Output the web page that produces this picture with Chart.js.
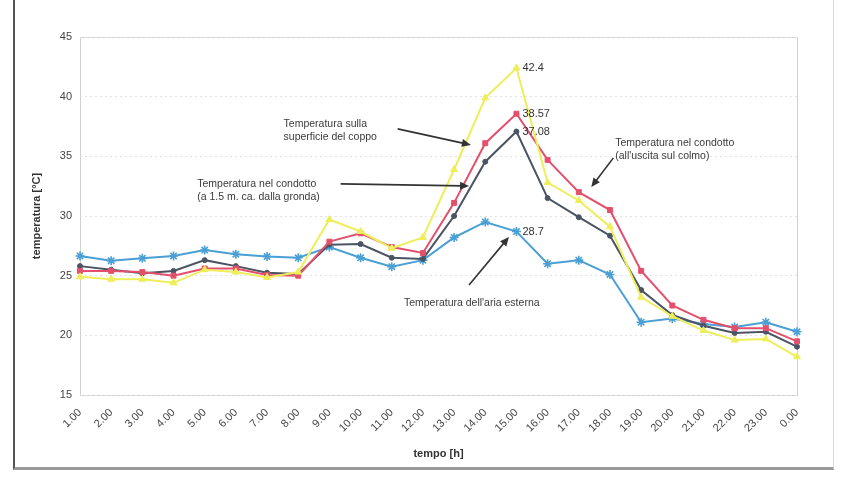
<!DOCTYPE html>
<html>
<head>
<meta charset="utf-8">
<script src="https://cdn.jsdelivr.net/npm/chart.js"></script>
<style>
	html, body { margin: 0; padding: 0; background: #fff; }
	#wrap { position: relative; width: 843px; height: 478px; }
	#frame { position: absolute; left: 13px; top: 0; width: 818px; height: 467px; border-left: 2px solid #555; border-bottom: 3px solid #999; border-right: 1px solid #ddd; }
	canvas { position: absolute; left: 0; top: 0; }
</style>
</head>
<body>
<div id="wrap">
	<div id="frame"></div>
	<canvas id="tempChart" width="843" height="478"></canvas>
</div>
<script>
var hours = ["1.00","2.00","3.00","4.00","5.00","6.00","7.00","8.00","9.00","10.00","11.00","12.00",
	"13.00","14.00","15.00","16.00","17.00","18.00","19.00","20.00","21.00","22.00","23.00","0.00"];

// superficie del coppo
var coppo = [24.9, 24.7, 24.7, 24.4, 25.5, 25.3, 24.85, 25.3, 29.7, 28.7, 27.3, 28.2,
	33.9, 39.9, 42.4, 32.8, 31.3, 29.1, 23.2, 21.6, 20.4, 19.6, 19.7, 18.2];
// condotto, uscita sul colmo
var colmo = [25.4, 25.4, 25.3, 25.0, 25.6, 25.6, 25.05, 25.0, 27.85, 28.55, 27.4, 26.9,
	31.1, 36.1, 38.57, 34.7, 32.0, 30.5, 25.4, 22.5, 21.3, 20.6, 20.6, 19.5];
// condotto, 1.5 m dalla gronda
var gronda = [25.8, 25.5, 25.2, 25.4, 26.3, 25.8, 25.25, 25.15, 27.6, 27.65, 26.5, 26.4,
	30.0, 34.55, 37.08, 31.5, 29.9, 28.35, 23.8, 21.7, 20.8, 20.2, 20.3, 19.05];
// aria esterna
var esterna = [26.65, 26.25, 26.45, 26.65, 27.15, 26.8, 26.6, 26.5, 27.4, 26.5, 25.75, 26.3,
	28.2, 29.5, 28.7, 26.0, 26.3, 25.1, 21.1, 21.4, 20.95, 20.7, 21.1, 20.3];

var yMin = 15, yMax = 45, yStep = 5;
var peakIndex = 14;

// callouts: text anchor and arrow in (category index, value) units
var callouts = [
	{ lines: ["Temperatura sulla", "superficie del coppo"], at: [6.53, 37.7], from: [10.19, 37.3], to: [12.54, 35.96] },
	{ lines: ["Temperatura nel condotto", "(a 1.5 m. ca. dalla gronda)"], at: [3.76, 32.69], from: [8.36, 32.69], to: [12.48, 32.52] },
	{ lines: ["Temperatura nel condotto", "(all'uscita sul colmo)"], at: [17.17, 36.12], from: [17.11, 34.87], to: [16.4, 32.43] },
	{ lines: ["Temperatura dell'aria esterna"], at: [10.39, 22.71], from: [12.48, 24.22], to: [13.76, 28.24] }
];

var FONT = "'Liberation Sans', Arial, sans-serif";

var calloutPlugin = {
	id: "callouts",
	afterDatasetsDraw: function(chart) {
		var ctx = chart.ctx, sx = chart.scales.x, sy = chart.scales.y;
		ctx.save();
		// peak values
		ctx.font = "11px " + FONT;
		ctx.fillStyle = "#333";
		ctx.textAlign = "left";
		ctx.textBaseline = "middle";
		chart.data.datasets.forEach(function(ds, i) {
			var pt = chart.getDatasetMeta(i).data[peakIndex];
			ctx.fillText(String(ds.data[peakIndex]), pt.x + 6, pt.y);
		});
		// text + arrows
		ctx.font = "10.5px " + FONT;
		ctx.fillStyle = "#3a3a3a";
		ctx.strokeStyle = "#333";
		ctx.lineWidth = 1.6;
		callouts.forEach(function(c) {
			var tx = sx.getPixelForValue(c.at[0]), ty = sy.getPixelForValue(c.at[1]);
			for (var k = 0; k < c.lines.length; k++) {
				ctx.fillText(c.lines[k], tx, ty + k * 13);
			}
			var x1 = sx.getPixelForValue(c.from[0]), y1 = sy.getPixelForValue(c.from[1]);
			var x2 = sx.getPixelForValue(c.to[0]), y2 = sy.getPixelForValue(c.to[1]);
			var a = Math.atan2(y2 - y1, x2 - x1);
			ctx.beginPath();
			ctx.moveTo(x1, y1);
			ctx.lineTo(x2 - 6 * Math.cos(a), y2 - 6 * Math.sin(a));
			ctx.stroke();
			ctx.beginPath();
			ctx.moveTo(x2, y2);
			ctx.lineTo(x2 - 9 * Math.cos(a) + 4 * Math.sin(a), y2 - 9 * Math.sin(a) - 4 * Math.cos(a));
			ctx.lineTo(x2 - 9 * Math.cos(a) - 4 * Math.sin(a), y2 - 9 * Math.sin(a) + 4 * Math.cos(a));
			ctx.closePath();
			ctx.fillStyle = "#333";
			ctx.fill();
			ctx.fillStyle = "#3a3a3a";
		});
		ctx.restore();
	}
};

var plotBorder = {
	id: "plotBorder",
	beforeDraw: function(chart) {
		var a = chart.chartArea, ctx = chart.ctx;
		ctx.save();
		ctx.strokeStyle = "#d0d0d0";
		ctx.lineWidth = 1;
		ctx.strokeRect(a.left + 0.5, a.top + 0.5, a.right - a.left, a.bottom - a.top);
		ctx.restore();
	}
};

var makeSet = function(label, data, color, style, radius) {
	return {
		label: label,
		data: data,
		borderColor: color,
		backgroundColor: color,
		borderWidth: 2,
		pointStyle: style,
		pointRadius: radius,
		pointBorderWidth: style === "star" ? 1.6 : 1,
		tension: 0
	};
};

var ctx = document.getElementById("tempChart").getContext("2d");
new Chart(ctx, {
	type: "line",
	data: {
		labels: hours,
		datasets: [
			makeSet("Temperatura sulla superficie del coppo", coppo, "#eeee5a", "triangle", 4),
			makeSet("Temperatura nel condotto (all'uscita sul colmo)", colmo, "#e4506c", "rect", 3.5),
			makeSet("Temperatura nel condotto (a 1.5 m. ca. dalla gronda)", gronda, "#4a5462", "circle", 2.5),
			makeSet("Temperatura dell'aria esterna", esterna, "#4a9fd4", "star", 4.5)
		]
	},
	options: {
		responsive: false,
		animation: false,
		layout: { padding: { left: 0, right: 46, top: 37, bottom: 10 } },
		plugins: {
			legend: { display: false },
			tooltip: { enabled: false }
		},
		scales: {
			x: {
				offset: false,
				grid: { display: false },
				border: { display: false },
				ticks: {
					autoSkip: false,
					maxRotation: 45,
					minRotation: 45,
					color: "#444",
					font: { family: FONT, size: 11 }
				},
				title: {
					display: true,
					text: "tempo [h]",
					color: "#333",
					font: { family: FONT, size: 11, weight: "bold" },
					padding: { top: 0, bottom: 7 }
				},
				afterFit: function(scale) {
					scale.height = 73;
					scale.paddingLeft = 0;
					scale.paddingRight = 0;
				}
			},
			y: {
				min: yMin,
				max: yMax,
				grid: { color: "#e2e2e2", drawTicks: false },
				border: { display: false, dash: [2, 3] },
				ticks: {
					stepSize: yStep,
					padding: 8,
					color: "#444",
					font: { family: FONT, size: 11 }
				},
				title: {
					display: true,
					text: "temperatura [°C]",
					color: "#333",
					font: { family: FONT, size: 11, weight: "bold" },
					padding: { top: 30, bottom: 0 }
				},
				afterFit: function(scale) {
					scale.width = 80;
				}
			}
		}
	},
	plugins: [plotBorder, calloutPlugin]
});
</script>
</body>
</html>
